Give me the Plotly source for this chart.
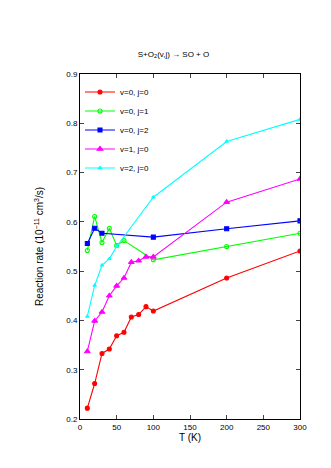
import plotly.graph_objects as go

# temperatures (K)
T_full = [10, 20, 30, 40, 50, 60, 70, 80, 90, 100, 200, 300]
T_j1 = [10, 20, 30, 40, 50, 60, 100, 200, 300]
T_j2 = [10, 20, 30, 100, 200, 300]
T_v2 = [10, 20, 30, 40, 50, 100, 200, 300]

# reaction rates (1e-11 cm^3/s)
k_v0j0 = [0.222, 0.272, 0.333, 0.342, 0.369, 0.376, 0.407, 0.412, 0.428, 0.419, 0.486, 0.541]
k_v0j1 = [0.542, 0.611, 0.558, 0.587, 0.552, 0.562, 0.523, 0.550, 0.577]
k_v0j2 = [0.556, 0.587, 0.577, 0.569, 0.586, 0.602]
k_v1j0 = [0.337, 0.399, 0.417, 0.450, 0.470, 0.486, 0.518, 0.521, 0.529, 0.529, 0.640, 0.687]
k_v2j0 = [0.408, 0.471, 0.512, 0.525, 0.550, 0.650, 0.763, 0.808]

series = [
    ("v=0, j=0", T_full, k_v0j0, "#ff0000", "circle", 4),
    ("v=0, j=1", T_j1, k_v0j1, "#00ff00", "circle-open", 4),
    ("v=0, j=2", T_j2, k_v0j2, "#0000ff", "square", 4),
    ("v=1, j=0", T_full, k_v1j0, "#ff00ff", "triangle-up", 5),
    ("v=2, j=0", T_v2, k_v2j0, "#00ffff", "triangle-up", 3),
]

fig = go.Figure()
for name, x, y, col, sym, sz in series:
    fig.add_trace(go.Scatter(x=x, y=y, name=name, mode="lines+markers",
                             line=dict(color=col, width=1.1),
                             marker=dict(symbol=sym, size=sz, color=col,
                                         line=dict(color=col, width=1.1))))

fig.update_layout(
    width=331, height=468,
    paper_bgcolor="white", plot_bgcolor="white",
    margin=dict(l=72, r=39, t=66, b=57),
    font=dict(family="Liberation Sans, Arial", size=8, color="black"),
    title=dict(text="S+O<sub>2</sub>(v,j) \u2192 SO + O", x=0.5, xanchor="center",
               y=1 - 46 / 468, yanchor="middle", font=dict(size=8)),
    showlegend=True,
    legend=dict(x=0.0, y=0.99, xanchor="left", yanchor="top",
                bgcolor="rgba(0,0,0,0)", font=dict(size=8),
                itemwidth=30, tracegroupgap=0),
)
fig.update_xaxes(range=[0, 300], tickvals=[0, 50, 100, 150, 200, 250, 300],
                 ticks="inside", ticklen=4, mirror="ticks", showline=True,
                 linecolor="black", linewidth=1, showgrid=False, zeroline=False,
                 title=dict(text="T (K)", standoff=2))
fig.update_yaxes(range=[0.2, 0.9], tickvals=[0.2, 0.3, 0.4, 0.5, 0.6, 0.7, 0.8, 0.9],
                 tickformat=".1f", ticks="inside", ticklen=4, mirror="ticks",
                 showline=True, linecolor="black", linewidth=1, showgrid=False,
                 zeroline=False,
                 title=dict(text="Reaction rate (10<sup>\u221211</sup> cm<sup>3</sup>/s)", standoff=20))

fig.write_html("out.html")
